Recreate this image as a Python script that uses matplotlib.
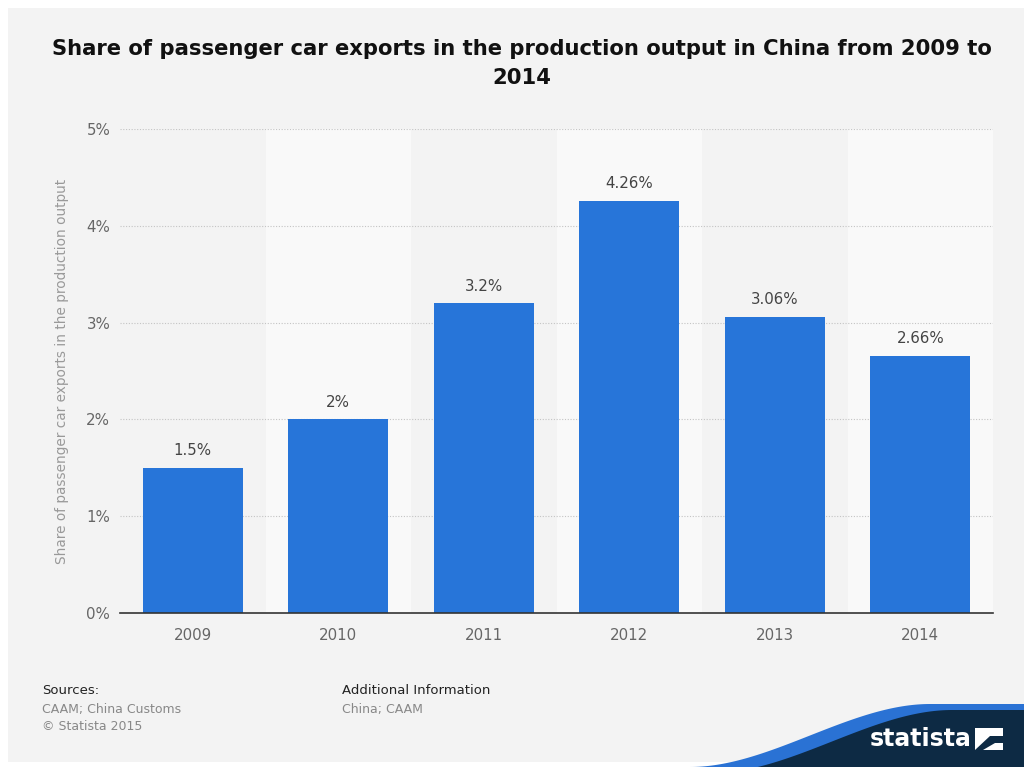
import numpy as np
import matplotlib
matplotlib.use("Agg")
import matplotlib.pyplot as plt
from matplotlib.patches import Polygon, Rectangle

years = ["2009", "2010", "2011", "2012", "2013", "2014"]
shares = [1.5, 2.0, 3.2, 4.26, 3.06, 2.66]
value_labels = ["1.5%", "2%", "3.2%", "4.26%", "3.06%", "2.66%"]
y_ticks = [0, 1, 2, 3, 4, 5]
y_tick_labels = ["0%", "1%", "2%", "3%", "4%", "5%"]

title = "Share of passenger car exports in the production output in China from 2009 to\n2014"
y_label = "Share of passenger car exports in the production output"

W, H = 1024, 767
fig = plt.figure(figsize=(W / 100, H / 100), dpi=100)
fig.patch.set_facecolor("white")

# full-figure overlay in pixel coordinates for the frame, footer and logo
bg = fig.add_axes([0, 0, 1, 1], zorder=0)
bg.set_xlim(0, W)
bg.set_ylim(H, 0)
bg.axis("off")
bg.add_patch(Rectangle((8, 8), W - 8, 754, facecolor="#f3f3f3", edgecolor="none"))

# main chart axes
left, right, top, bottom = 120, 993, 129, 613
ax = fig.add_axes([left / W, 1 - bottom / H, (right - left) / W, (bottom - top) / H], zorder=1)
ax.set_facecolor("none")
x = np.arange(len(years))
for i in x:
    if i % 2 == 1:
        ax.axvspan(i - 0.5, i + 0.5, color="#f9f9f9", zorder=0, lw=0)
ax.set_xlim(-0.5, len(years) - 0.5)
ax.set_ylim(0, 5)
for t in y_ticks[1:]:
    ax.axhline(t, color="#c4c4c4", lw=0.8, ls=(0, (1, 1.5)), zorder=1)
bars = ax.bar(x, shares, width=0.69, color="#2775d9", zorder=2)
for xi, v, lab in zip(x, shares, value_labels):
    ax.text(xi, v + 0.1, lab, ha="center", va="bottom", fontsize=10.8, color="#444444", zorder=3)

ax.set_xticks(x)
ax.set_xticklabels(years, fontsize=10.8, color="#666666")
ax.set_yticks(y_ticks)
ax.set_yticklabels(y_tick_labels, fontsize=10.8, color="#666666")
ax.tick_params(axis="x", length=0, pad=11)
ax.tick_params(axis="y", length=0, pad=7)
for s in ["top", "right", "left"]:
    ax.spines[s].set_visible(False)
ax.spines["bottom"].set_color("#333333")
ax.spines["bottom"].set_linewidth(1.2)
ax.spines["bottom"].set_zorder(4)
ax.set_ylabel(y_label, fontsize=9.8, color="#999999")
ax.yaxis.set_label_coords(-0.058, 0.5)

# title
bg.text(522, 63.5, title, ha="center", va="center", fontsize=15.2, fontweight="bold",
        color="#111111", linespacing=1.62)

# footer
bg.text(42, 691, "Sources:", fontsize=9.5, color="#222222", va="center")
bg.text(42, 709, "CAAM; China Customs", fontsize=9, color="#888888", va="center")
bg.text(42, 726, "© Statista 2015", fontsize=9, color="#888888", va="center")
bg.text(342, 691, "Additional Information", fontsize=9.5, color="#222222", va="center")
bg.text(342, 709, "China; CAAM", fontsize=9, color="#888888", va="center")

# logo wave
xs = np.linspace(690, 930, 80)
t = (xs - 690) / (930 - 690)
s = t * t * (3 - 2 * t)
ys = 767 - s * (767 - 704)
edge_x = np.concatenate([xs, [W]])
edge_y = np.concatenate([ys, [704]])
blue_pts = np.column_stack([np.concatenate([edge_x, [W, 690]]),
                            np.concatenate([edge_y, [767, 767]])])
bg.add_patch(Polygon(blue_pts, closed=True, facecolor="#2a72d4", edgecolor="none", zorder=1))
dark_pts = np.column_stack([np.concatenate([edge_x + 22, [W + 30, 712]]),
                            np.concatenate([edge_y + 6, [767, 767]])])
bg.add_patch(Polygon(dark_pts, closed=True, facecolor="#0d2a44", edgecolor="none", zorder=2))
bg.text(921, 739, "statista", fontsize=17, fontweight="bold", color="white",
        ha="center", va="center", zorder=3)
bg.add_patch(Rectangle((975, 728), 28, 22, facecolor="white", edgecolor="none", zorder=3))
bg.add_patch(Polygon([[975, 750], [990, 736], [1003, 736], [1003, 743], [995, 743], [983, 750]],
                     closed=True, facecolor="#0d2a44", edgecolor="none", zorder=4))

fig.savefig("out.png", dpi=100, facecolor=fig.get_facecolor())
